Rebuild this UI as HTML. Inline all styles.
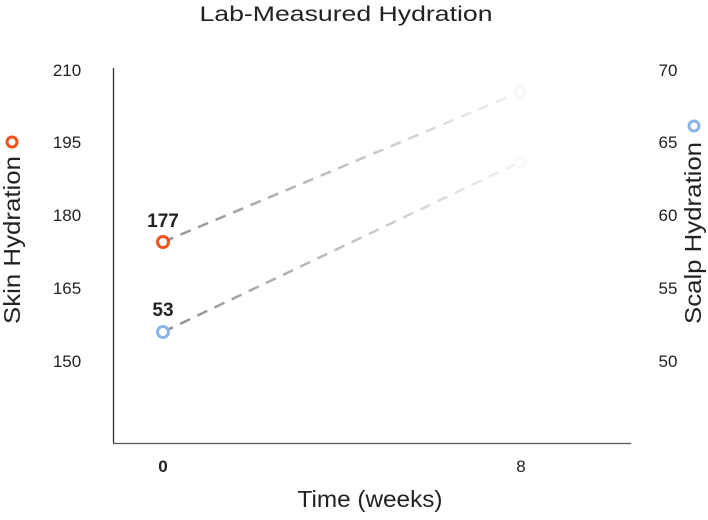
<!DOCTYPE html>
<html><head><meta charset="utf-8"><style>
body{margin:0;background:#fff;}
svg text{font-family:"Liberation Sans",sans-serif;}
</style></head><body>
<svg width="708" height="515" viewBox="0 0 708 515" xmlns="http://www.w3.org/2000/svg">
<defs>
<linearGradient id="g" gradientUnits="userSpaceOnUse" x1="163" y1="0" x2="520" y2="0">
<stop offset="0" stop-color="#8f8f8f"/><stop offset="1" stop-color="#f2f2f2"/>
</linearGradient>
</defs>
<text x="346" y="21" font-size="21" text-anchor="middle" fill="#222" textLength="293" lengthAdjust="spacingAndGlyphs">Lab-Measured Hydration</text>
<line x1="113.5" y1="68" x2="113.5" y2="443" stroke="#333" stroke-width="1.3"/>
<line x1="113" y1="443.5" x2="631" y2="443.5" stroke="#555" stroke-width="1.3"/>
<g font-size="17" fill="#222" text-anchor="middle">
<text x="67" y="76">210</text><text x="67" y="148">195</text><text x="67" y="221">180</text><text x="67" y="294">165</text><text x="67" y="367">150</text>
<text x="668" y="76">70</text><text x="668" y="148">65</text><text x="668" y="221">60</text><text x="668" y="294">55</text><text x="668" y="367">50</text>
<text x="163" y="472" font-weight="bold">0</text><text x="521" y="472">8</text>
</g>
<text x="370" y="507" font-size="23" text-anchor="middle" fill="#222" textLength="145" lengthAdjust="spacingAndGlyphs">Time (weeks)</text>
<text transform="translate(20,240) rotate(-90)" font-size="23" text-anchor="middle" fill="#222" textLength="168" lengthAdjust="spacingAndGlyphs">Skin Hydration</text>
<text transform="translate(701,233) rotate(-90)" font-size="23" text-anchor="middle" fill="#222" textLength="182" lengthAdjust="spacingAndGlyphs">Scalp Hydration</text>
<circle cx="12" cy="142" r="5" fill="#fff" stroke="#f4511e" stroke-width="3"/>
<circle cx="694" cy="126" r="5" fill="#fff" stroke="#8ab4e8" stroke-width="3"/>
<line x1="163" y1="242" x2="520" y2="92" stroke="url(#g)" stroke-width="2.5" stroke-dasharray="11,8"/>
<line x1="163" y1="332" x2="520" y2="162" stroke="url(#g)" stroke-width="2.5" stroke-dasharray="11,8"/>
<circle cx="520" cy="92" r="5" fill="#fff" stroke="#f8f8f8" stroke-width="3"/>
<circle cx="520" cy="162" r="5" fill="#fff" stroke="#f8f8f8" stroke-width="3"/>
<circle cx="163" cy="242" r="5.5" fill="#fff" stroke="#f4511e" stroke-width="3"/>
<circle cx="163" cy="332" r="5.5" fill="#fff" stroke="#8ab4e8" stroke-width="3"/>
<text x="163" y="227" font-size="19" font-weight="bold" text-anchor="middle" fill="#222">177</text>
<text x="163" y="316" font-size="19" font-weight="bold" text-anchor="middle" fill="#222">53</text>
</svg>
</body></html>
